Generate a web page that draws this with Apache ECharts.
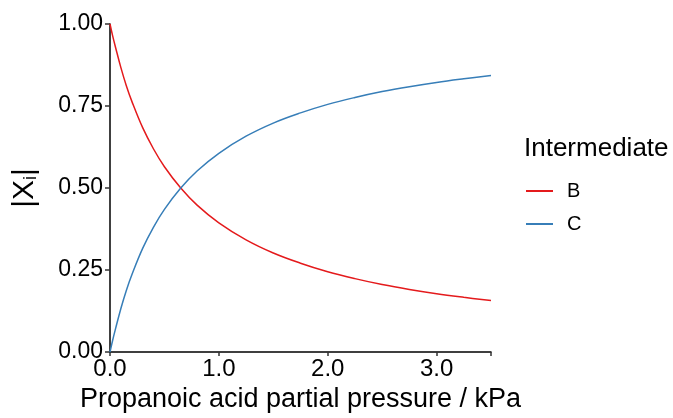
<!DOCTYPE html>
<html><head><meta charset="utf-8">
<script src="https://cdn.jsdelivr.net/npm/echarts@6/dist/echarts.min.js"></script>
<style>html,body{margin:0;padding:0;background:#fff}#c{width:673px;height:418px}</style>
</head><body><div id="c"></div>
<script>
const pressure = [0, 0.025, 0.05, 0.1, 0.15, 0.2, 0.3, 0.4, 0.5, 0.65, 0.8, 1.0, 1.25, 1.5, 1.75, 2.0, 2.25, 2.5, 2.75, 3.0, 3.25, 3.5];
const seriesB = [1.0, 0.963, 0.93, 0.867, 0.812, 0.765, 0.684, 0.619, 0.565, 0.5, 0.448, 0.394, 0.342, 0.302, 0.271, 0.245, 0.224, 0.206, 0.191, 0.178, 0.167, 0.157];
const seriesC = [0.0, 0.037, 0.07, 0.133, 0.188, 0.235, 0.316, 0.381, 0.435, 0.5, 0.552, 0.606, 0.658, 0.698, 0.729, 0.755, 0.776, 0.794, 0.809, 0.822, 0.833, 0.843];
const xTicks = [0, 1, 2, 3];
const yTicks = [0, 0.25, 0.5, 0.75, 1];

const font = 'Liberation Sans, Arial, sans-serif';
const chart = echarts.init(document.getElementById('c'));
const pair = (xs, ys) => xs.map((x, i) => [x, ys[i]]);
chart.setOption({
  animation: false,
  title: {text: 'Intermediate', left: 524, top: 136, padding: 0, textStyle: {fontFamily: font, fontSize: 26, fontWeight: 'normal', color: '#000'}},
  legend: {
    orient: 'vertical', left: 526, top: 181, padding: 0, itemWidth: 27, itemHeight: 2, itemGap: 13, icon: 'rect',
    textStyle: {fontFamily: font, fontSize: 20, color: '#000', padding: [0, 0, 0, 9]},
    data: ['B', 'C']
  },
  grid: {left: 110, right: 182, top: 24, bottom: 63},
  xAxis: {
    type: 'value', min: 0, max: 3.5, interval: 1,
    name: 'Propanoic acid partial pressure / kPa', nameLocation: 'middle', nameGap: 31,
    nameTextStyle: {fontFamily: font, fontSize: 27, color: '#000'},
    axisLine: {lineStyle: {color: '#000', width: 1.5}},
    axisTick: {show: true, length: 4, lineStyle: {color: '#333', width: 1.5}},
    axisLabel: {fontFamily: font, fontSize: 24, color: '#000', margin: 5,
      formatter: v => xTicks.includes(v) ? v.toFixed(1) : ''},
    splitLine: {show: false}
  },
  yAxis: {
    type: 'value', min: 0, max: 1, interval: 0.25,
    name: '|X{s|i}|', nameLocation: 'middle', nameGap: 70,
    nameTextStyle: {fontFamily: font, fontSize: 30, color: '#000',
      rich: {s: {fontFamily: font, fontSize: 18, color: '#000', verticalAlign: 'bottom', padding: [12, 0, 0, 0]}}},
    axisLine: {show: true, lineStyle: {color: '#000', width: 1.5}},
    axisTick: {show: true, length: 5, lineStyle: {color: '#333', width: 1.5}},
    axisLabel: {fontFamily: font, fontSize: 23, color: '#000', margin: 7,
      formatter: v => yTicks.includes(v) ? v.toFixed(2) : ''},
    splitLine: {show: false}
  },
  series: [
    {name: 'B', type: 'line', data: pair(pressure, seriesB), smooth: 0.4, showSymbol: false, lineStyle: {color: '#E41A1C', width: 1.5}, itemStyle: {color: '#E41A1C'}},
    {name: 'C', type: 'line', data: pair(pressure, seriesC), smooth: 0.4, showSymbol: false, lineStyle: {color: '#377EB8', width: 1.5}, itemStyle: {color: '#377EB8'}}
  ]
});
</script></body></html>
